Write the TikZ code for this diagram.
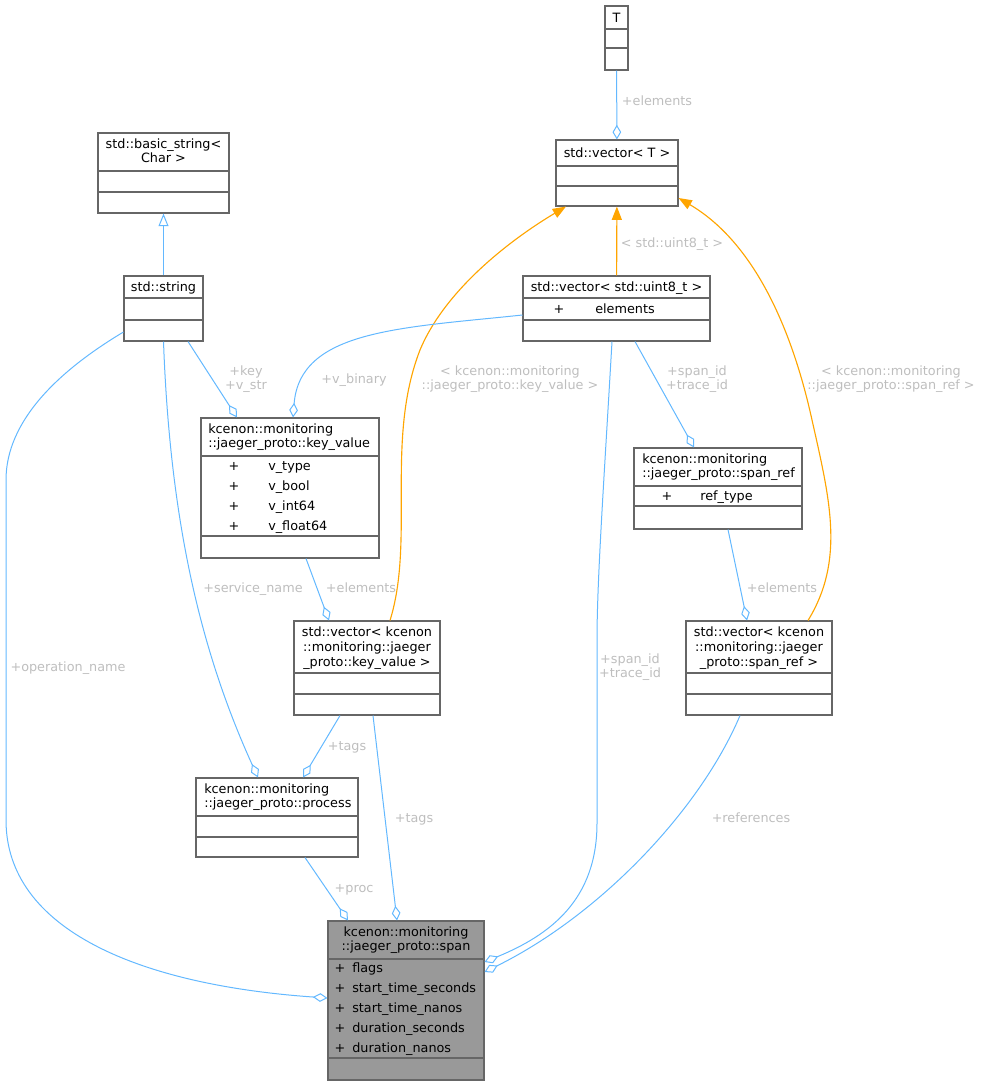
\documentclass[tikz,border=0pt]{standalone}
\usepackage{fontspec}
\setmainfont{DejaVu Sans}
\usepackage{xcolor}
\usepackage{tikz}
\usetikzlibrary{arrows.meta, calc, fit}

\definecolor{edgeblue}{HTML}{63B8FF}
\definecolor{tmplorange}{HTML}{FFA500}
\definecolor{boxgray}{HTML}{666666}
\definecolor{lblgray}{HTML}{BEBEBE}
\definecolor{spanfill}{HTML}{999999}
\newcommand\sk{\rule[-2pt]{0pt}{11pt}}

\begin{document}
\begin{tikzpicture}[
  x=0.75pt, y=-0.75pt,
  font=\fontsize{9.6}{11}\selectfont,
  cls/.style   = {draw=boxgray, line width=0.8pt, fill=white, inner sep=0pt},
  hot/.style   = {cls, fill=spanfill},
  sepl/.style  = {draw=boxgray, line width=0.8pt},
  txt/.style   = {inner sep=0pt, execute at begin node=\sk, execute at end node=\sk},
  ttl/.style   = {txt, align=center},
  ttll/.style  = {txt, align=left, anchor=west},
  plus/.style  = {txt},
  memb/.style  = {txt, anchor=west},
  lbl/.style   = {txt, text=lblgray, align=center},
  agg/.style   = {edgeblue, line width=0.75pt, -{Diamond[open, length=11pt, width=6.5pt]}},
  inh/.style   = {edgeblue, line width=0.75pt, -{Triangle[open, length=9.5pt, width=7.5pt]}},
  tmpl/.style  = {tmplorange, line width=0.85pt, -{Triangle[length=10pt, width=7.5pt]}},
]
\useasboundingbox (0,0) rectangle (983,1087);

%% class boxes
\node[cls, fit={(605,6)(628,70)}]      (T)     {};
\node[cls, fit={(556,140)(678,206)}]   (vecT)  {};
\node[cls, fit={(98,133)(229,213)}]    (bstr)  {};
\node[cls, fit={(124,276)(203,341)}]   (str)   {};
\node[cls, fit={(523,276)(710,341)}]   (u8)    {};
\node[cls, fit={(201,418)(379,558)}]   (kv)    {};
\node[cls, fit={(634,448)(802,529)}]   (sr)    {};
\node[cls, fit={(294,621)(440,715)}]   (vecKV) {};
\node[cls, fit={(686,621)(832,715)}]   (vecSR) {};
\node[cls, fit={(196,778)(358,857)}]   (proc)  {};
\node[hot, fit={(328,921)(484,1080)}]  (span)  {};

%% compartments
\foreach \y in {29,48}   \draw[sepl] (T.west |- 0,\y) -- (T.east |- 0,\y);
\foreach \y in {166,186} \draw[sepl] (vecT.west |- 0,\y) -- (vecT.east |- 0,\y);
\foreach \y in {171,192} \draw[sepl] (bstr.west |- 0,\y) -- (bstr.east |- 0,\y);
\foreach \y in {298,320} \draw[sepl] (str.west |- 0,\y) -- (str.east |- 0,\y);
\foreach \y in {298,320} \draw[sepl] (u8.west |- 0,\y) -- (u8.east |- 0,\y);
\foreach \y in {456,536} \draw[sepl] (kv.west |- 0,\y) -- (kv.east |- 0,\y);
\foreach \y in {486,506} \draw[sepl] (sr.west |- 0,\y) -- (sr.east |- 0,\y);
\foreach \y in {673,694} \draw[sepl] (vecKV.west |- 0,\y) -- (vecKV.east |- 0,\y);
\foreach \y in {673,694} \draw[sepl] (vecSR.west |- 0,\y) -- (vecSR.east |- 0,\y);
\foreach \y in {816,837} \draw[sepl] (proc.west |- 0,\y) -- (proc.east |- 0,\y);
\foreach \y in {959,1058} \draw[sepl] (span.west |- 0,\y) -- (span.east |- 0,\y);

%% class names and members
\node[ttl]  (T-n)     at (616.5,17.5) {T};
\node[ttl]  (vecT-n)  at (617,153)    {std::vector< T >};
\node[ttl]  (bstr-n)  at (163.5,152)  {std::basic\_string<\\Char >};
\node[ttl]  (str-n)   at (163.5,287)  {std::string};
\node[ttl]  (u8-n)    at (616.5,287)  {std::vector< std::uint8\_t >};
\node[plus] (u8-p)    at (559,309)    {+};
\node[memb] (u8-m)    at (595,309)    {elements};

\node[ttll] (kv-n)    at (208,437)    {kcenon::monitoring\\::jaeger\_proto::key\_value};
\foreach \m [count=\i] in {v\_type, v\_bool, v\_int64, v\_float64} {
  \node[plus] (kv-p\i) at (234,446+20*\i) {+};
  \node[memb] (kv-m\i) at (268,446+20*\i) {\m};
}

\node[ttll] (sr-n)    at (642,467)    {kcenon::monitoring\\::jaeger\_proto::span\_ref};
\node[plus] (sr-p)    at (667,496)    {+};
\node[memb] (sr-m)    at (700,496)    {ref\_type};

\node[ttl]  (vecKV-n) at (367,648)    {std::vector< kcenon\\::monitoring::jaeger\\\_proto::key\_value >};
\node[ttl]  (vecSR-n) at (759,648)    {std::vector< kcenon\\::monitoring::jaeger\\\_proto::span\_ref >};
\node[ttll] (proc-n)  at (204,797)    {kcenon::monitoring\\::jaeger\_proto::process};

\node[ttl]  (span-n)  at (406,940)    {kcenon::monitoring\\::jaeger\_proto::span};
\foreach \m [count=\i] in {flags, start\_time\_seconds, start\_time\_nanos, duration\_seconds, duration\_nanos} {
  \node[plus] (span-p\i) at (340,948+20*\i) {+};
  \node[memb] (span-m\i) at (352,948+20*\i) {\m};
}

%% template side
\draw[agg]  (T) -- (vecT);
\node[lbl] (l-telem) at (657,101) {+elements};
\draw[tmpl] (u8) -- (vecT);
\node[lbl] (l-u8) at (672,243) {< std::uint8\_t >};
\draw[tmpl] (vecKV.north -| 390,0) .. controls (415,540) and (385,440) .. (420,350)
            .. controls (445,290) and (510,240) .. (vecT.south -| 566,0);
\node[lbl] (l-kvt) at (510,379) {< kcenon::monitoring\\::jaeger\_proto::key\_value >};
\draw[tmpl] (vecSR.north -| 808,0) .. controls (845,560) and (830,500) .. (812,420)
            .. controls (790,320) and (750,240) .. (vecT.east |- 0,198);
\node[lbl] (l-srt) at (891,379) {< kcenon::monitoring\\::jaeger\_proto::span\_ref >};

%% string
\draw[inh] (str) -- (bstr);
\draw[agg] (str.south -| 188,0) -- (kv.north -| 237,0);
\node[lbl] (l-key) at (246,379) {+key\\+v\_str};
\draw[agg] (str.south) .. controls (170,520) and (200,650) .. (proc.north -| 258,0);
\node[lbl] (l-svc) at (253,588) {+service\_name};
\draw[agg] (str.west |- 0,332) .. controls (60,370) and (6,420) .. (6,480) -- (6,820)
           .. controls (6,930) and (140,985) .. (span.west |- 0,998);
\node[lbl] (l-op) at (68,667) {+operation\_name};

%% uint8 vector
\draw[agg] (u8.west |- 0,315) .. controls (400,328) and (300,330) .. (kv.north -| 293,0);
\node[lbl] (l-vbin) at (354,379) {+v\_binary};
\draw[agg] (u8.south -| 635,0) -- (sr.north -| 694,0);
\node[lbl] (l-sid1) at (697,379) {+span\_id\\+trace\_id};
\draw[agg] (u8.south -| 612,0) .. controls (604,480) and (597,580) .. (597,640) -- (597,823)
           .. controls (597,900) and (550,935) .. (span.east |- 0,962);
\node[lbl] (l-sid2) at (630,667) {+span\_id\\+trace\_id};

%% containers
\draw[agg] (kv.south -| 306,0) -- (vecKV.north -| 329,0);
\node[lbl] (l-kvel) at (361,588) {+elements};
\draw[agg] (sr.south -| 728,0) -- (vecSR.north -| 747,0);
\node[lbl] (l-srel) at (782,588) {+elements};
\draw[agg] (vecKV.south -| 340,0) -- (proc.north -| 303,0);
\node[lbl] (l-tags1) at (347,746) {+tags};
\draw[agg] (vecKV.south -| 373,0) -- (span.north -| 397,0);
\node[lbl] (l-tags2) at (414,818) {+tags};
\draw[agg] (vecSR.south -| 740,0) .. controls (700,810) and (600,915) .. (span.east |- 0,972);
\node[lbl] (l-refs) at (751,818) {+references};
\draw[agg] (proc.south -| 305,0) -- (span.north -| 348,0);
\node[lbl] (l-proc) at (354,888) {+proc};

\end{tikzpicture}
\end{document}
